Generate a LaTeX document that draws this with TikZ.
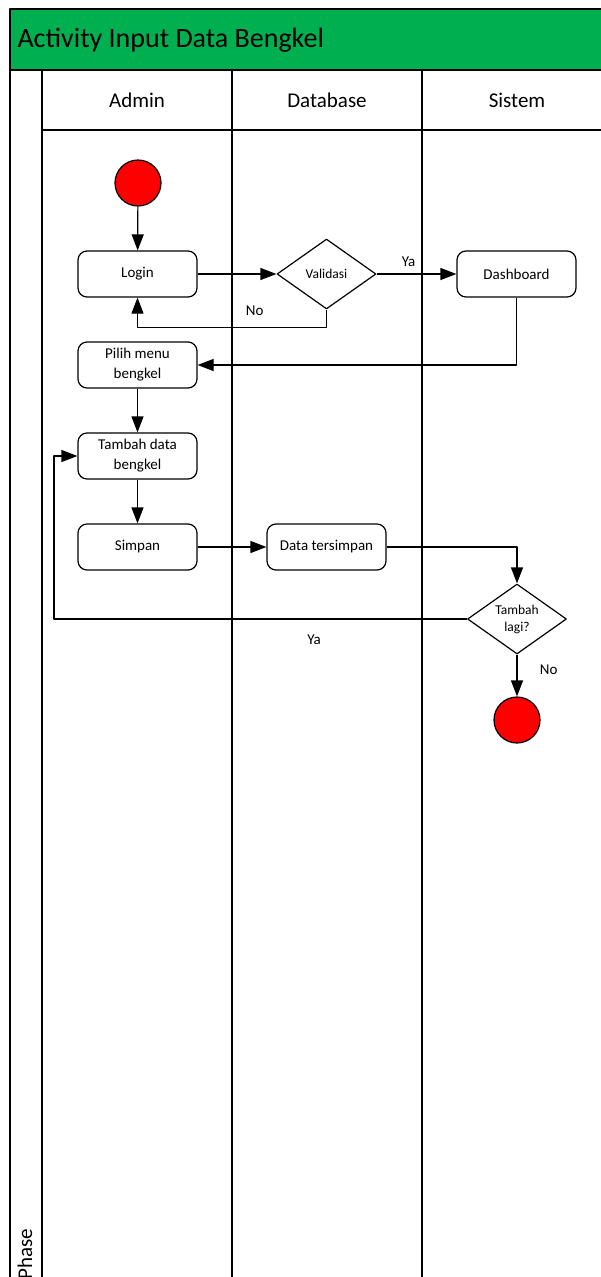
\documentclass[tikz,border=0pt]{standalone}
\usepackage{fontspec}
\setmainfont{Carlito}
\usetikzlibrary{shapes.geometric,arrows.meta,positioning}
\definecolor{judulhijau}{HTML}{00B050}
\definecolor{merah}{HTML}{FF0000}

\begin{document}
\begin{tikzpicture}[x=1pt, y=-1pt, line join=round, >={Triangle[length=16pt,width=12pt]},
	aksi/.style={draw, line width=1.2pt, rounded corners=9pt, minimum width=119pt,
		minimum height=46pt, align=center, font=\fontsize{15}{20}\selectfont},
	keputusan/.style={draw, line width=1.2pt, diamond, aspect=1.4, inner sep=0pt,
		minimum width=99pt, minimum height=70pt, align=center, font=\fontsize{13.5}{17}\selectfont},
	titik/.style={draw, line width=1.2pt, circle, fill=merah, minimum size=46pt, inner sep=0pt},
	label/.style={font=\fontsize{15}{18}\selectfont},
	alur/.style={->, line width=1.2pt}]
	\useasboundingbox (0,0) rectangle (601,1277);
	\clip (0,0) rectangle (601,1277);
	% swimlane
	\fill[judulhijau] (10,9) rectangle (620,70);
	\draw[line width=1.6pt] (620,9) -- (10,9) -- (10,1300)
	(10,70) -- (620,70)
	(42,130) -- (620,130);
	\foreach \x in {42,232,422}
	\draw[line width=1.8pt] (\x,70) -- (\x,1300);
	\node[anchor=west, font=\fontsize{28}{32}\selectfont] (judul) at (14,40) {Activity Input Data Bengkel};
	\foreach \n/\x/\t in {admin/137/Admin,db/327/Database,sistem/517/Sistem}
	\node[font=\fontsize{21}{24}\selectfont] (\n) at (\x,100) {\t};
	\node[rotate=90, font=\fontsize{21}{24}\selectfont] (fase) at (25,1254) {Phase};
	% aktivitas
	\node[titik] (mulai) at (138,183) {};
	\node[aksi] (login) at (137.5,274) {Login};
	\node[keputusan] (validasi) at (326.5,274) {Validasi};
	\node[aksi] (dashboard) at (516.5,274) {Dashboard};
	\node[aksi] (pilih) at (137.5,365) {Pilih menu\\bengkel};
	\node[aksi] (tambah) at (137.5,456) {Tambah data\\bengkel};
	\node[aksi] (simpan) at (137.5,547) {Simpan};
	\node[aksi] (tersimpan) at (326.5,547) {Data tersimpan};
	\node[keputusan] (lagi) at (517,619) {Tambah\\lagi?};
	\node[titik] (selesai) at (517,720) {};
	\coordinate (balik) at (54,619);
	% alur
	\draw[alur] (mulai) -- (login);
	\draw[alur] (login) -- (validasi);
	\draw[alur] (validasi) -- node[label, pos=0.4, above=3pt]{Ya} (dashboard);
	\draw[alur] (validasi.south) -- ++(0,18) -| node[label, pos=0.19, above=8pt]{No} (login.south);
	\draw[alur] (dashboard.south) |- (pilih.east);
	\draw[alur] (pilih) -- (tambah);
	\draw[alur] (tambah) -- (simpan);
	\draw[alur] (simpan) -- (tersimpan);
	\draw[alur] (tersimpan.east) -| (lagi.north);
	\draw[alur] (lagi.west) -- node[label, pos=0.37, below=12pt]{Ya} (balik) |- (tambah.west);
	\draw[alur] (lagi) -- node[label, pos=0.37, right=19pt]{No} (selesai);
\end{tikzpicture}
\end{document}
